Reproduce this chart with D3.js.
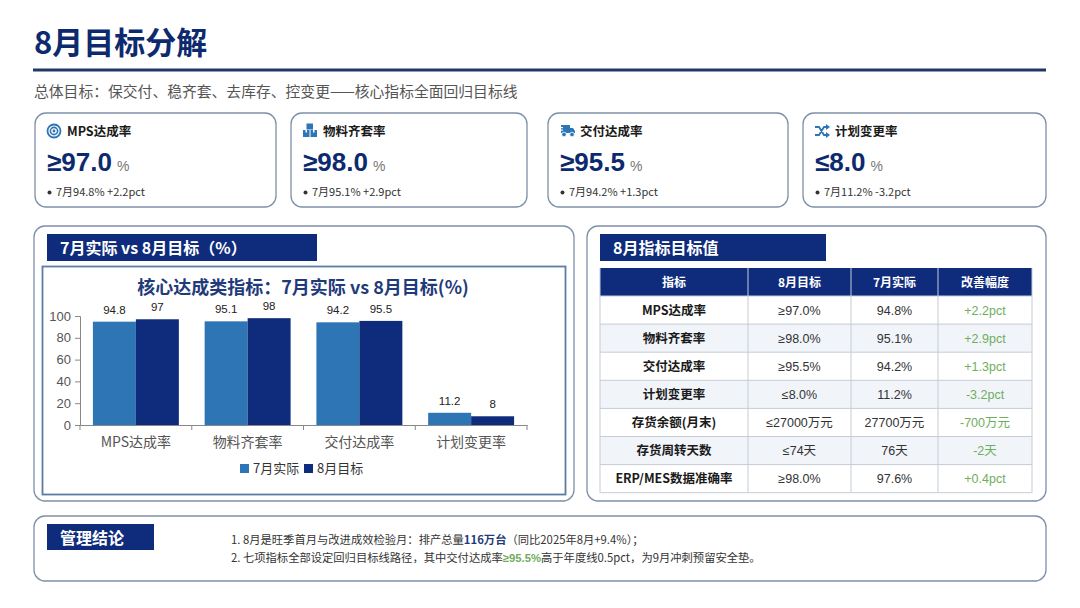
<!DOCTYPE html>
<html><head><meta charset="utf-8">
<script src="https://cdn.jsdelivr.net/npm/d3@7/dist/d3.min.js"></script>
<style>
html,body{margin:0;padding:0;background:#fff;}
svg{display:block;}
</style></head>
<body><svg id="c" width="1080" height="608"></svg>
<script>
// ---------- data ----------
const pageTitle = "8月目标分解";
const subTitle = "总体目标：保交付、稳齐套、去库存、控变更——核心指标全面回归目标线";
const kpiNames = ["MPS达成率","物料齐套率","交付达成率","计划变更率"];
const kpiOps = ["≥","≥","≥","≤"];
const kpiValues = ["97.0","98.0","95.5","8.0"];
const kpiNotes = ["7月94.8% +2.2pct","7月95.1% +2.9pct","7月94.2% +1.3pct","7月11.2% -3.2pct"];
const kpiIcons = ["target","boxes","truck","shuffle"];

const categories = ["MPS达成率","物料齐套率","交付达成率","计划变更率"];
const seriesNames = ["7月实际","8月目标"];
const julyActual = [94.8, 95.1, 94.2, 11.2];
const augTarget = [97, 98, 95.5, 8];
const yTicks = [0,20,40,60,80,100];

const tableHeader = ["指标","8月目标","7月实际","改善幅度"];
const tableNames = ["MPS达成率","物料齐套率","交付达成率","计划变更率","存货余额(月末)","存货周转天数","ERP/MES数据准确率"];
const tableTargets = ["≥97.0%","≥98.0%","≥95.5%","≤8.0%","≤27000万元","≤74天","≥98.0%"];
const tableActuals = ["94.8%","95.1%","94.2%","11.2%","27700万元","76天","97.6%"];
const tableDeltas = ["+2.2pct","+2.9pct","+1.3pct","-3.2pct","-700万元","-2天","+0.4pct"];

// ---------- styles ----------
const NAVY = "#0f2c7c", BLUE = "#2e75b6", TITLE = "#0e2a6e", GREEN = "#6fae5c";
const CJK = "'Noto Sans CJK SC','Noto Sans',sans-serif";
const ARIAL = "'Liberation Sans',Arial,'Noto Sans CJK SC',sans-serif";
const svg = d3.select("#c");

// title
svg.append("text").attr("x",34).attr("y",54).attr("font-family",CJK).attr("font-weight",700)
  .attr("font-size",31).attr("fill",TITLE).text(pageTitle);
svg.append("rect").attr("x",33).attr("y",68.5).attr("width",1013).attr("height",3).attr("fill","#1f3864");
svg.append("text").attr("x",34).attr("y",97).attr("font-family",CJK).attr("font-size",14.8)
  .attr("fill","#555").text(subTitle);

function panel(x,y,w,h){
  svg.append("rect").attr("x",x).attr("y",y).attr("width",w).attr("height",h).attr("rx",11)
    .attr("fill","#fff").attr("stroke","#7d90a8").attr("stroke-width",1.3);
}

// ---------- KPI cards ----------
const cardX = [35, 291, 548, 803], cardW = [241, 236, 240, 243];
function drawIcon(g,type){
  if(type==="target"){
    g.append("circle").attr("r",6.5).attr("fill","none").attr("stroke",BLUE).attr("stroke-width",1.8);
    g.append("circle").attr("r",3.6).attr("fill","none").attr("stroke",BLUE).attr("stroke-width",1.6);
    g.append("circle").attr("r",1.4).attr("fill",BLUE);
  } else if(type==="boxes"){
    g.append("rect").attr("x",-7).attr("y",-1).attr("width",6.5).attr("height",7).attr("fill",BLUE);
    g.append("rect").attr("x",0.5).attr("y",-1).attr("width",6.5).attr("height",7).attr("fill",BLUE);
    g.append("rect").attr("x",-3.5).attr("y",-7.5).attr("width",6.5).attr("height",6).attr("fill",BLUE);
    g.append("rect").attr("x",-4.5).attr("y",-1).attr("width",1.5).attr("height",2.5).attr("fill","#fff");
    g.append("rect").attr("x",3).attr("y",-1).attr("width",1.5).attr("height",2.5).attr("fill","#fff");
  } else if(type==="truck"){
    g.append("rect").attr("x",-6).attr("y",-6).attr("width",9).attr("height",8).attr("fill",BLUE);
    g.append("path").attr("d","M3,-3 L6,-3 L8,0 L8,2 L3,2 Z").attr("fill",BLUE);
    g.append("circle").attr("cx",-3).attr("cy",3.5).attr("r",2.3).attr("fill",BLUE).attr("stroke","#fff").attr("stroke-width",0.8);
    g.append("circle").attr("cx",5).attr("cy",3.5).attr("r",2.3).attr("fill",BLUE).attr("stroke","#fff").attr("stroke-width",0.8);
    g.append("rect").attr("x",-8).attr("y",-4).attr("width",4).attr("height",1.2).attr("fill","#fff");
    g.append("rect").attr("x",-8).attr("y",-1.5).attr("width",4).attr("height",1.2).attr("fill","#fff");
  } else {
    g.append("path").attr("d","M-7,-4 L-3,-4 L2,4 L5,4 M-7,4 L-3,4 L2,-4 L5,-4")
      .attr("fill","none").attr("stroke",BLUE).attr("stroke-width",1.8);
    g.append("path").attr("d","M4,-7 L8,-4 L4,-1 Z M4,1 L8,4 L4,7 Z").attr("fill",BLUE);
  }
}
kpiNames.forEach((n,i)=>{
  const x = cardX[i];
  panel(x,113,cardW[i],94);
  const ig = svg.append("g").attr("transform",`translate(${x+19},131)`);
  drawIcon(ig,kpiIcons[i]);
  svg.append("text").attr("x",x+32).attr("y",136).attr("font-family",CJK).attr("font-weight",700)
    .attr("font-size",12.5).attr("fill","#1a1a1a").text(n);
  const t = svg.append("text").attr("x",x+12).attr("y",171).attr("font-family",ARIAL).attr("fill",TITLE);
  t.append("tspan").attr("font-weight",700).attr("font-size",26).text(kpiOps[i]+kpiValues[i]);
  t.append("tspan").attr("font-size",14).attr("fill","#777").attr("dx",5).text("%");
  svg.append("circle").attr("cx",x+14.5).attr("cy",192.5).attr("r",2).attr("fill","#333");
  svg.append("text").attr("x",x+21).attr("y",196).attr("font-family",CJK).attr("font-size",11)
    .attr("fill","#333").text(kpiNotes[i]);
});

// ---------- left chart panel ----------
panel(34,226,540,275);
svg.append("rect").attr("x",47).attr("y",234).attr("width",270).attr("height",27).attr("fill",NAVY);
svg.append("text").attr("x",60).attr("y",254).attr("font-family",CJK).attr("font-weight",700)
  .attr("font-size",16).attr("fill","#fff").text("7月实际 vs 8月目标（%）");
svg.append("rect").attr("x",42.5).attr("y",266.5).attr("width",523).attr("height",228)
  .attr("fill","#fff").attr("stroke","#5b7ca3").attr("stroke-width",1.8);
svg.append("text").attr("x",303).attr("y",294).attr("text-anchor","middle").attr("font-family",CJK)
  .attr("font-weight",700).attr("font-size",18).attr("fill","#1f3b7a").text("核心达成类指标：7月实际 vs 8月目标(%)");

const x = d3.scaleBand().domain(categories).range([80,527]).paddingInner(0).paddingOuter(0);
const xs = d3.scaleBand().domain(seriesNames).range([0,x.bandwidth()]).paddingInner(0).paddingOuter(0.3);
const y = d3.scaleLinear().domain([0,100]).range([425,316]);
const colors = d3.scaleOrdinal().domain(seriesNames).range([BLUE, NAVY]);
const seriesData = [julyActual, augTarget];

const bars = [];
categories.forEach((c,ci)=>seriesNames.forEach((s,si)=>bars.push({c,s,v:seriesData[si][ci]})));
svg.append("g").selectAll("rect").data(bars).join("rect")
  .attr("x",d=>x(d.c)+xs(d.s)).attr("width",xs.bandwidth())
  .attr("y",d=>y(d.v)).attr("height",d=>y(0)-y(d.v)).attr("fill",d=>colors(d.s));
svg.append("g").selectAll("text").data(bars).join("text")
  .attr("x",d=>x(d.c)+xs(d.s)+xs.bandwidth()/2).attr("y",d=>y(d.v)-8)
  .attr("text-anchor","middle").attr("font-family",ARIAL).attr("font-size",11.5).attr("fill","#222")
  .text(d=>d.v);

const yAxis = svg.append("g").attr("transform","translate(80,0)")
  .call(d3.axisLeft(y).tickValues(yTicks).tickSize(5).tickPadding(4));
yAxis.select(".domain").attr("stroke","#888");
yAxis.selectAll(".tick line").attr("stroke","#888");
yAxis.selectAll("text").attr("font-family",ARIAL).attr("font-size",13).attr("fill","#555");

const xAxis = svg.append("g").attr("transform","translate(0,425)")
  .call(d3.axisBottom(x).tickSize(0).tickPadding(12));
xAxis.select(".domain").attr("stroke","#888");
xAxis.selectAll("text").attr("font-family",CJK).attr("font-size",14).attr("fill","#555");
svg.append("g").selectAll("line").data(d3.range(categories.length+1)).join("line")
  .attr("x1",i=>80+i*x.step()).attr("x2",i=>80+i*x.step()).attr("y1",425).attr("y2",430)
  .attr("stroke","#888");

// legend
const lg = svg.append("g").attr("transform","translate(240,473)");
seriesNames.forEach((s,i)=>{
  const gx = i*64;
  lg.append("rect").attr("x",gx).attr("y",-9).attr("width",9).attr("height",9).attr("fill",colors(s));
  lg.append("text").attr("x",gx+13).attr("y",0).attr("font-family",CJK).attr("font-size",13).attr("fill","#333").text(s);
});

// ---------- right table panel ----------
panel(587,226,459,275);
svg.append("rect").attr("x",600).attr("y",234).attr("width",226).attr("height",27).attr("fill",NAVY);
svg.append("text").attr("x",613).attr("y",254).attr("font-family",CJK).attr("font-weight",700)
  .attr("font-size",16).attr("fill","#fff").text("8月指标目标值");

const colEdges = [600,748,851,938,1032];
const rowTop = 268, headH = 28, rowH = 28.1;
svg.append("rect").attr("x",600).attr("y",rowTop).attr("width",432).attr("height",headH).attr("fill",NAVY);
tableHeader.forEach((h,i)=>{
  svg.append("text").attr("x",(colEdges[i]+colEdges[i+1])/2).attr("y",rowTop+18.5).attr("text-anchor","middle")
    .attr("font-family",CJK).attr("font-weight",700).attr("font-size",12).attr("fill","#fff").text(h);
});
const rows = tableNames.map((n,i)=>[n,tableTargets[i],tableActuals[i],tableDeltas[i]]);
const ry = i=>rowTop+headH+i*rowH;
svg.append("g").selectAll("rect").data(rows).join("rect")
  .attr("x",600).attr("y",(d,i)=>ry(i)).attr("width",432).attr("height",rowH)
  .attr("fill",(d,i)=>i%2? "#f1f5fa":"#fff");
rows.forEach((r,i)=>{
  r.forEach((v,j)=>{
    svg.append("text").attr("x",(colEdges[j]+colEdges[j+1])/2).attr("y",ry(i)+18.5).attr("text-anchor","middle")
      .attr("font-family",j===0?CJK:ARIAL).attr("font-weight",j===0?700:400).attr("font-size",12.5)
      .attr("fill",j===3?GREEN:(j===0?"#1a1a1a":"#333")).text(v);
  });
});
const gridG = svg.append("g").attr("stroke","#c5ccd6").attr("stroke-width",1).attr("fill","none");
d3.range(rows.length+1).forEach(i=>gridG.append("line").attr("x1",600).attr("x2",1032).attr("y1",ry(i)).attr("y2",ry(i)));
colEdges.forEach(cx=>gridG.append("line").attr("x1",cx).attr("x2",cx).attr("y1",rowTop).attr("y2",ry(rows.length)));

// ---------- bottom conclusion ----------
panel(34,516,1012,65);
svg.append("rect").attr("x",47).attr("y",524).attr("width",107).attr("height",26).attr("fill",NAVY);
svg.append("text").attr("x",60).attr("y",544).attr("font-family",CJK).attr("font-weight",700)
  .attr("font-size",16).attr("fill","#fff").text("管理结论");
const l1 = svg.append("text").attr("x",231).attr("y",544).attr("font-family",CJK).attr("font-size",11.3).attr("fill","#333");
l1.append("tspan").text("1. 8月是旺季首月与改进成效检验月：排产总量");
l1.append("tspan").attr("font-weight",700).attr("fill","#1f3b7a").text("116万台");
l1.append("tspan").text("（同比2025年8月+9.4%）；");
const l2 = svg.append("text").attr("x",231).attr("y",562).attr("font-family",CJK).attr("font-size",11.3).attr("fill","#333");
l2.append("tspan").text("2. 七项指标全部设定回归目标线路径，其中交付达成率");
l2.append("tspan").attr("font-weight",700).attr("fill",GREEN).attr("font-family",ARIAL).text("≥95.5%");
l2.append("tspan").text("高于年度线0.5pct，为9月冲刺预留安全垫。");
</script></body></html>
